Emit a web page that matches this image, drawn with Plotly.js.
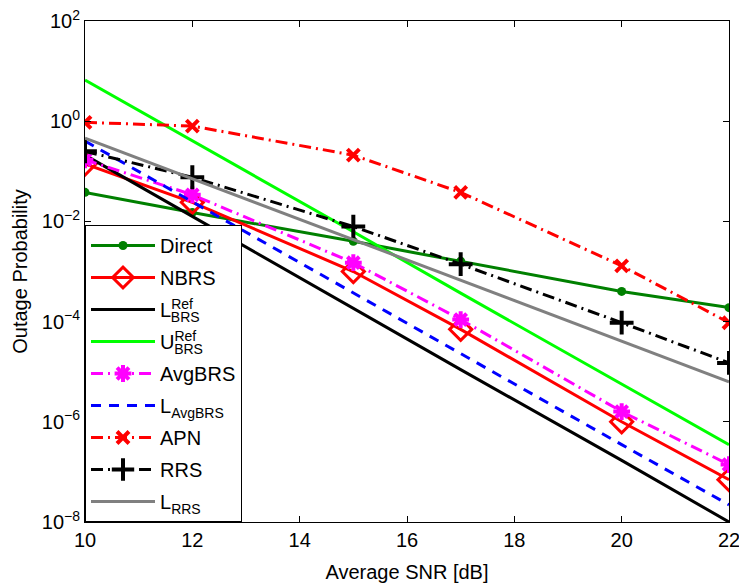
<!DOCTYPE html>
<html>
<head>
<meta charset="utf-8">
<script src="https://cdn.plot.ly/plotly-3.0.1.min.js"></script>
<style>html,body{margin:0;padding:0;background:#fff;}#chart{width:739px;height:584px;}</style>
</head>
<body>
<div id="chart"></div>
<script>
// SNR values [dB]
const snr = [10, 12, 15, 17, 20, 22];

// Outage probability series
const direct   = [0.038, 0.015, 0.004, 0.0016, 4.0e-4, 1.9e-4];
const nbrs     = [0.14, 0.024, 1.0e-3, 7.0e-5, 1.0e-6, 7.0e-8];
const lBrsRef  = [0.21, 0.0126, 1.9e-4, 1.1e-5, 1.7e-7, 1.0e-8];
const uBrsRef  = [6.6, 0.41, 6.2e-3, 3.7e-4, 5.6e-6, 3.5e-7];
const avgBrs   = [0.17, 0.034, 1.5e-3, 1.1e-4, 1.6e-6, 1.4e-7];
const lAvgBrs  = [0.4, 0.0245, 3.7e-4, 2.3e-5, 3.5e-7, 2.2e-8];
const apn      = [0.95, 0.8, 0.21, 0.038, 1.3e-3, 9.5e-5];
const rrs      = [0.25, 0.076, 7.9e-3, 1.4e-3, 9.5e-5, 1.5e-5];
const lRrs     = [0.46, 0.071, 4.3e-3, 6.6e-4, 4.1e-5, 6.3e-6];

// Tick labels
const xTicks = [10, 12, 14, 16, 18, 20, 22];
const yTickVals = [1e-8, 1e-6, 1e-4, 1e-2, 1e0, 1e2];
const yTickText = ['10<sup>\u22128</sup>', '10<sup>\u22126</sup>', '10<sup>\u22124</sup>', '10<sup>\u22122</sup>', '10<sup>0</sup>', '10<sup>2</sup>'];

const names = [
  'Direct',
  'NBRS',
  'L<sup>Ref</sup><sub><span style="letter-spacing:-26px">\u00a0</span>BRS</sub>',
  'U<sup>Ref</sup><sub><span style="letter-spacing:-26px">\u00a0</span>BRS</sub>',
  'AvgBRS',
  'L<sub>AvgBRS</sub>',
  'APN',
  'RRS',
  'L<sub>RRS</sub>'
];

const DD = '12px,5px,2px,5px';
const W = 3;
const traces = [
  {y: direct, name: names[0], mode: 'lines+markers', line: {color: '#008000', width: W}, marker: {symbol: 'circle', size: 9, color: '#008000'}},
  {y: nbrs, name: names[1], mode: 'lines+markers', line: {color: '#ff0000', width: W}, marker: {symbol: 'diamond-open', size: 17, color: '#ff0000', line: {width: 3, color: '#ff0000'}}},
  {y: lBrsRef, name: names[2], mode: 'lines', line: {color: '#000000', width: W}},
  {y: uBrsRef, name: names[3], mode: 'lines', line: {color: '#00ff00', width: W}},
  {y: avgBrs, name: names[4], mode: 'lines+markers', line: {color: '#ff00ff', width: W, dash: DD}, marker: {symbol: 'asterisk-open', size: 14, color: '#ff00ff', line: {width: 4, color: '#ff00ff'}}},
  {y: lAvgBrs, name: names[5], mode: 'lines', line: {color: '#0000ff', width: W, dash: '10px,8px'}},
  {y: apn, name: names[6], mode: 'lines+markers', line: {color: '#ff0000', width: W, dash: DD}, marker: {symbol: 'x-thin-open', size: 12, color: '#ff0000', line: {width: 4, color: '#ff0000'}}},
  {y: rrs, name: names[7], mode: 'lines+markers', line: {color: '#000000', width: W, dash: DD}, marker: {symbol: 'cross-thin-open', size: 17, color: '#000000', line: {width: 4, color: '#000000'}}},
  {y: lRrs, name: names[8], mode: 'lines', line: {color: '#808080', width: W}}
].map((t, i) => Object.assign({x: snr, type: 'scatter', cliponaxis: true, legendgroup: 'g' + i}, t));

const FONT = 'Liberation Sans, Arial, sans-serif';
const layout = {
  width: 739, height: 584,
  margin: {l: 85, r: 10, t: 21, b: 62},
  paper_bgcolor: '#fff', plot_bgcolor: '#fff',
  font: {family: FONT, size: 20, color: '#000'},
  showlegend: true,
  legend: {
    x: 0, y: 0, xanchor: 'left', yanchor: 'bottom',
    bgcolor: '#fff', bordercolor: '#000', borderwidth: 1,
    font: {family: FONT, size: 20, color: '#000'},
    itemwidth: 64, tracegroupgap: 3
  },
  xaxis: {
    range: [10, 22], tickvals: xTicks, ticktext: xTicks.map(String),
    ticks: 'inside', ticklen: 6, tickcolor: '#000', mirror: 'ticks',
    showline: true, linecolor: '#000', linewidth: 1, showgrid: false, zeroline: false,
    tickfont: {size: 20}, ticklabeloverflow: 'allow',
    title: {text: 'Average SNR [dB]', font: {size: 20}, standoff: 14}
  },
  yaxis: {
    type: 'log', range: [-8, 2], tickvals: yTickVals, ticktext: yTickText,
    ticks: 'inside', ticklen: 6, tickcolor: '#000', mirror: 'ticks',
    showline: true, linecolor: '#000', linewidth: 1, showgrid: false, zeroline: false,
    tickfont: {size: 20},
    title: {text: 'Outage Probability', font: {size: 20}, standoff: 8}
  }
};

Plotly.newPlot('chart', traces, layout, {displayModeBar: false, staticPlot: true});
</script>
</body>
</html>
